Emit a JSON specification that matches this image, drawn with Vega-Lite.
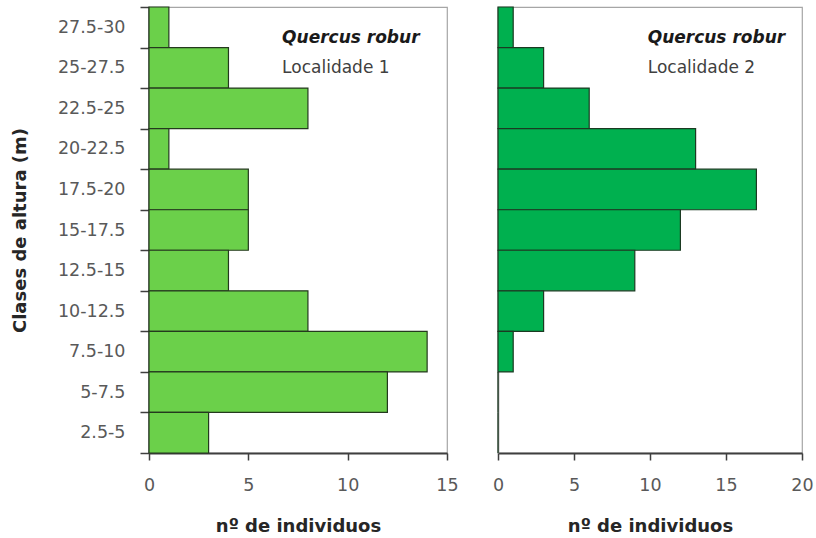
{
  "$schema": "https://vega.github.io/schema/vega-lite/v6.json",
  "padding": {"left": 10, "top": -3, "right": 5, "bottom": 0},
  "bounds": "flush",
  "spacing": 51,
  "background": "white",
  "config": {
    "font": "DejaVu Sans",
    "view": {"stroke": "#a6a6a6", "strokeWidth": 1.2},
    "axis": {
      "grid": false,
      "labelFont": "DejaVu Sans",
      "labelFontSize": 17.5,
      "labelColor": "#595959",
      "titleFont": "DejaVu Sans",
      "titleFontSize": 18,
      "titleFontWeight": "bold",
      "titleColor": "#262626",
      "domainColor": "#3f3f3f",
      "domainWidth": 2,
      "tickColor": "#3f3f3f",
      "tickWidth": 1.5
    }
  },
  "datasets": {
    "bars": [
      {"loc": 1, "clase": "27.5-30", "n": 1},
      {"loc": 1, "clase": "25-27.5", "n": 4},
      {"loc": 1, "clase": "22.5-25", "n": 8},
      {"loc": 1, "clase": "20-22.5", "n": 1},
      {"loc": 1, "clase": "17.5-20", "n": 5},
      {"loc": 1, "clase": "15-17.5", "n": 5},
      {"loc": 1, "clase": "12.5-15", "n": 4},
      {"loc": 1, "clase": "10-12.5", "n": 8},
      {"loc": 1, "clase": "7.5-10", "n": 14},
      {"loc": 1, "clase": "5-7.5", "n": 12},
      {"loc": 1, "clase": "2.5-5", "n": 3},
      {"loc": 2, "clase": "27.5-30", "n": 1},
      {"loc": 2, "clase": "25-27.5", "n": 3},
      {"loc": 2, "clase": "22.5-25", "n": 6},
      {"loc": 2, "clase": "20-22.5", "n": 13},
      {"loc": 2, "clase": "17.5-20", "n": 17},
      {"loc": 2, "clase": "15-17.5", "n": 12},
      {"loc": 2, "clase": "12.5-15", "n": 9},
      {"loc": 2, "clase": "10-12.5", "n": 3},
      {"loc": 2, "clase": "7.5-10", "n": 1},
      {"loc": 2, "clase": "5-7.5", "n": 0},
      {"loc": 2, "clase": "2.5-5", "n": 0}
    ],
    "notes": [
      {"loc": 1, "kind": "species", "label": "Quercus robur", "clase": "27.5-30", "x": 6.7},
      {"loc": 1, "kind": "site", "label": "Localidade 1", "clase": "25-27.5", "x": 6.7},
      {"loc": 2, "kind": "species", "label": "Quercus robur", "clase": "27.5-30", "x": 9.85},
      {"loc": 2, "kind": "site", "label": "Localidade 2", "clase": "25-27.5", "x": 9.85}
    ]
  },
  "hconcat": [
    {
      "width": 298,
      "height": 446,
      "layer": [
        {
          "data": {"name": "bars"},
          "transform": [{"filter": "datum.loc == 1"}],
          "mark": {"type": "bar", "fill": "#6bd04a", "stroke": "#24391e", "strokeWidth": 1.2},
          "encoding": {
            "y": {
              "field": "clase", "type": "nominal",
              "sort": ["27.5-30", "25-27.5", "22.5-25", "20-22.5", "17.5-20", "15-17.5", "12.5-15", "10-12.5", "7.5-10", "5-7.5", "2.5-5"],
              "scale": {"paddingInner": 0, "paddingOuter": 0},
              "axis": {"title": "Clases de altura (m)", "tickBand": "extent", "tickSize": 9, "labelPadding": 15, "titlePadding": 28}
            },
            "x": {
              "field": "n", "type": "quantitative",
              "scale": {"domain": [0, 15], "nice": false},
              "axis": {"title": "nº de individuos", "values": [0, 5, 10, 15], "labelFlush": false, "tickSize": 7, "labelPadding": 16, "titlePadding": 24}
            }
          }
        },
        {
          "data": {"name": "notes"},
          "transform": [{"filter": "datum.loc == 1 && datum.kind == 'species'"}],
          "mark": {"type": "text", "align": "left", "baseline": "middle", "dy": 11, "font": "DejaVu Sans", "fontSize": 17, "fontWeight": "bold", "fontStyle": "italic", "color": "#1a1a1a"},
          "encoding": {
            "x": {"field": "x", "type": "quantitative"},
            "y": {"field": "clase", "type": "nominal", "sort": ["27.5-30", "25-27.5", "22.5-25", "20-22.5", "17.5-20", "15-17.5", "12.5-15", "10-12.5", "7.5-10", "5-7.5", "2.5-5"]},
            "text": {"field": "label"}
          }
        },
        {
          "data": {"name": "notes"},
          "transform": [{"filter": "datum.loc == 1 && datum.kind == 'site'"}],
          "mark": {"type": "text", "align": "left", "baseline": "middle", "dy": 0, "font": "DejaVu Sans", "fontSize": 17, "color": "#404040"},
          "encoding": {
            "x": {"field": "x", "type": "quantitative"},
            "y": {"field": "clase", "type": "nominal", "sort": ["27.5-30", "25-27.5", "22.5-25", "20-22.5", "17.5-20", "15-17.5", "12.5-15", "10-12.5", "7.5-10", "5-7.5", "2.5-5"]},
            "text": {"field": "label"}
          }
        }
      ]
    },
    {
      "width": 304,
      "height": 446,
      "layer": [
        {
          "data": {"name": "bars"},
          "transform": [{"filter": "datum.loc == 2"}],
          "mark": {"type": "bar", "fill": "#00b04f", "stroke": "#1b3a22", "strokeWidth": 1.2},
          "encoding": {
            "y": {
              "field": "clase", "type": "nominal",
              "sort": ["27.5-30", "25-27.5", "22.5-25", "20-22.5", "17.5-20", "15-17.5", "12.5-15", "10-12.5", "7.5-10", "5-7.5", "2.5-5"],
              "scale": {"paddingInner": 0, "paddingOuter": 0},
              "axis": {"title": null, "labels": false, "ticks": false, "domainColor": "#808080", "domainWidth": 1.5}
            },
            "x": {
              "field": "n", "type": "quantitative",
              "scale": {"domain": [0, 20], "nice": false},
              "axis": {"title": "nº de individuos", "values": [0, 5, 10, 15, 20], "labelFlush": false, "tickSize": 7, "labelPadding": 16, "titlePadding": 24}
            }
          }
        },
        {
          "data": {"name": "notes"},
          "transform": [{"filter": "datum.loc == 2 && datum.kind == 'species'"}],
          "mark": {"type": "text", "align": "left", "baseline": "middle", "dy": 11, "font": "DejaVu Sans", "fontSize": 17, "fontWeight": "bold", "fontStyle": "italic", "color": "#1a1a1a"},
          "encoding": {
            "x": {"field": "x", "type": "quantitative"},
            "y": {"field": "clase", "type": "nominal", "sort": ["27.5-30", "25-27.5", "22.5-25", "20-22.5", "17.5-20", "15-17.5", "12.5-15", "10-12.5", "7.5-10", "5-7.5", "2.5-5"]},
            "text": {"field": "label"}
          }
        },
        {
          "data": {"name": "notes"},
          "transform": [{"filter": "datum.loc == 2 && datum.kind == 'site'"}],
          "mark": {"type": "text", "align": "left", "baseline": "middle", "dy": 0, "font": "DejaVu Sans", "fontSize": 17, "color": "#404040"},
          "encoding": {
            "x": {"field": "x", "type": "quantitative"},
            "y": {"field": "clase", "type": "nominal", "sort": ["27.5-30", "25-27.5", "22.5-25", "20-22.5", "17.5-20", "15-17.5", "12.5-15", "10-12.5", "7.5-10", "5-7.5", "2.5-5"]},
            "text": {"field": "label"}
          }
        }
      ]
    }
  ]
}
